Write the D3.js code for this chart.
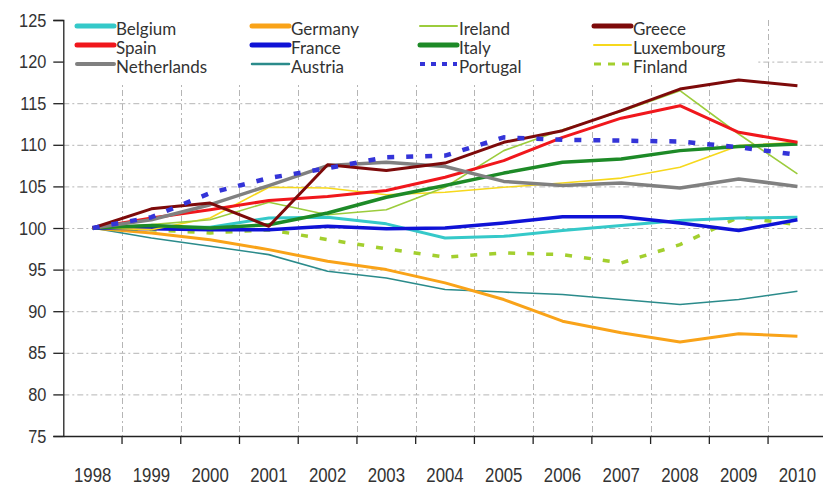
<!DOCTYPE html>
<html>
<head>
<meta charset="utf-8">
<script src="https://cdn.jsdelivr.net/npm/d3@7"></script>
<style>
  body { margin: 0; background: #fff; }
  svg { display: block; font-family: Lato, "Open Sans", sans-serif; }
</style>
</head>
<body>
<div id="chart"></div>
<script>
'use strict';

// index values, 1998 = 100
const years = [1998, 1999, 2000, 2001, 2002, 2003, 2004, 2005, 2006, 2007, 2008, 2009, 2010];
const yTicks = [75, 80, 85, 90, 95, 100, 105, 110, 115, 120, 125];

const belgium     = [100, 100.1, 100.1, 101.2, 101.3, 100.5, 98.8, 99.0, 99.7, 100.3, 100.9, 101.2, 101.3];
const germany     = [100, 99.4, 98.6, 97.4, 96.0, 95.0, 93.4, 91.4, 88.8, 87.4, 86.3, 87.3, 87.0];
const ireland     = [100, 100.4, 101.0, 103.1, 101.6, 102.2, 104.9, 109.3, 111.8, 114.0, 116.5, 111.3, 106.5];
const greece      = [100, 102.3, 103.0, 100.2, 107.6, 106.9, 107.8, 110.3, 111.7, 114.1, 116.7, 117.8, 117.1];
const spain       = [100, 101.2, 102.2, 103.3, 103.8, 104.5, 106.1, 108.1, 110.9, 113.2, 114.7, 111.5, 110.3];
const france      = [100, 99.9, 99.8, 99.8, 100.2, 99.9, 100.0, 100.6, 101.35, 101.35, 100.6, 99.7, 101.0];
const italy       = [100, 100.3, 100.0, 100.4, 101.8, 103.7, 105.1, 106.6, 107.9, 108.3, 109.3, 109.8, 110.1];
const luxembourg  = [100, 99.8, 101.2, 104.9, 104.8, 104.0, 104.3, 104.9, 105.4, 106.0, 107.3, 109.9, 110.3];
const netherlands = [100, 101.0, 102.8, 105.1, 107.5, 107.9, 107.4, 105.6, 105.1, 105.4, 104.8, 105.9, 105.0];
const austria     = [100, 98.8, 97.8, 96.8, 94.8, 94.0, 92.6, 92.3, 92.0, 91.4, 90.8, 91.4, 92.4];
const portugal    = [100, 101.3, 104.2, 106.0, 107.2, 108.5, 108.7, 110.9, 110.6, 110.5, 110.4, 109.7, 108.8];
const finland     = [100, 99.8, 99.4, 99.8, 98.6, 97.5, 96.5, 97.0, 96.8, 95.8, 98.0, 101.3, 100.4];

// legend order (4 columns x 3 rows, read row by row)
const series = [
  { name: 'Belgium',     values: belgium,     color: '#35c9c9', width: 3,   legendWidth: 5 },
  { name: 'Germany',     values: germany,     color: '#f9a319', width: 3,   legendWidth: 5 },
  { name: 'Ireland',     values: ireland,     color: '#9ccc3c', width: 1.6, legendWidth: 2 },
  { name: 'Greece',      values: greece,      color: '#7d0a0a', width: 3,   legendWidth: 5 },
  { name: 'Spain',       values: spain,       color: '#f0171c', width: 3,   legendWidth: 5 },
  { name: 'France',      values: france,      color: '#0f12d6', width: 3.5, legendWidth: 5 },
  { name: 'Italy',       values: italy,       color: '#1d8a27', width: 3.5, legendWidth: 5 },
  { name: 'Luxembourg',  values: luxembourg,  color: '#f6d81c', width: 1.6, legendWidth: 2 },
  { name: 'Netherlands', values: netherlands, color: '#808080', width: 3.5, legendWidth: 4 },
  { name: 'Austria',     values: austria,     color: '#2b8b8b', width: 1.6, legendWidth: 2.5 },
  { name: 'Portugal',    values: portugal,    color: '#3434d8', width: 4.5, legendWidth: 4, dash: '7,12', legendDash: '5,6' },
  { name: 'Finland',     values: finland,     color: '#a3cf2e', width: 3.5, legendWidth: 3, dash: '7,12', legendDash: '7,7' }
];

// drawing order, back to front
const drawOrder = ['Austria', 'Germany', 'Finland', 'Belgium', 'France', 'Luxembourg',
  'Ireland', 'Italy', 'Spain', 'Netherlands', 'Greece', 'Portugal'];

const width = 823, height = 487;
const margin = { left: 63.3, top: 20, bottom: 436 };
const band = 58.73;

const svg = d3.select('#chart').append('svg')
  .attr('width', width)
  .attr('height', height);

const x = d3.scaleBand()
  .domain(years)
  .range([margin.left, margin.left + band * years.length]);

const y = d3.scaleLinear()
  .domain([75, 125])
  .range([margin.bottom, margin.top]);

const xMid = (yr) => x(yr) + x.bandwidth() / 2;

// grid
const grid = svg.append('g').attr('class', 'grid')
  .attr('stroke', '#b5b5b5')
  .attr('stroke-width', 1)
  .attr('stroke-dasharray', '6,3,2,3');

grid.selectAll('.hgrid')
  .data(yTicks.filter((t) => t > 75 && t < 125))
  .enter().append('line')
    .attr('x1', margin.left).attr('x2', width)
    .attr('y1', (d) => y(d) + 0.5).attr('y2', (d) => y(d) + 0.5);

grid.selectAll('.vgrid')
  .data(years.slice(1))
  .enter().append('line')
    .attr('x1', (d) => Math.round(x(d)) + 0.5).attr('x2', (d) => Math.round(x(d)) + 0.5)
    .attr('y1', margin.top).attr('y2', margin.bottom);

// legend background hides the grid behind it
svg.append('rect')
  .attr('x', margin.left + 1).attr('y', 0)
  .attr('width', 693).attr('height', 82)
  .attr('fill', '#fff');

// axes
const yAxis = svg.append('g')
  .attr('transform', `translate(${margin.left},0)`)
  .call(d3.axisLeft(y).tickValues(yTicks).tickSize(10).tickPadding(7));
yAxis.select('.domain').attr('stroke', '#222').attr('stroke-width', 1.3);
yAxis.selectAll('.tick line').attr('stroke', '#222').attr('stroke-width', 1.3);
yAxis.selectAll('text')
  .attr('font-size', 19)
  .attr('fill', '#333')
  .attr('transform', 'scale(0.86,1)')
  .attr('x', -17 / 0.86);

const xAxis = svg.append('g')
  .attr('transform', `translate(0,${margin.bottom})`)
  .call(d3.axisBottom(x).tickSize(0).tickPadding(40));
xAxis.select('.domain').attr('stroke', '#222').attr('stroke-width', 1.6);
xAxis.selectAll('text')
  .attr('font-size', 21)
  .attr('fill', '#333')
  .attr('dy', 0)
  .attr('y', 46)
  .attr('transform', 'scale(0.8,1)');

// boundary ticks between the year bands
svg.append('g').selectAll('line')
  .data(years.slice(1))
  .enter().append('line')
    .attr('x1', (d) => x(d)).attr('x2', (d) => x(d))
    .attr('y1', margin.bottom).attr('y2', margin.bottom + 8)
    .attr('stroke', '#222')
    .attr('stroke-width', 1.3);

// lines
const line = d3.line()
  .x((d, i) => xMid(years[i]))
  .y((d) => y(d));

const byName = new Map(series.map((s) => [s.name, s]));

svg.append('g').selectAll('path')
  .data(drawOrder.map((n) => byName.get(n)))
  .enter().append('path')
    .attr('d', (d) => line(d.values))
    .attr('fill', 'none')
    .attr('stroke', (d) => d.color)
    .attr('stroke-width', (d) => d.width)
    .attr('stroke-dasharray', (d) => d.dash || null)
    .attr('stroke-linejoin', 'round');

// legend
const colX = [77, 252, 420, 594];
const rowY = [26, 45, 64];

const legend = svg.append('g').attr('class', 'legend');
const items = legend.selectAll('g')
  .data(series)
  .enter().append('g')
    .attr('transform', (d, i) => `translate(${colX[i % 4]},${rowY[Math.floor(i / 4)]})`);

items.append('line')
  .attr('x1', 0).attr('x2', 37)
  .attr('stroke', (d) => d.color)
  .attr('stroke-width', (d) => d.legendWidth)
  .attr('stroke-linecap', (d) => d.legendDash ? 'butt' : 'round')
  .attr('stroke-dasharray', (d) => d.legendDash || null);

items.append('text')
  .attr('x', 39)
  .attr('y', 9)
  .attr('font-size', 17)
  .attr('fill', '#333')
  .text((d) => d.name);
</script>
</body>
</html>
